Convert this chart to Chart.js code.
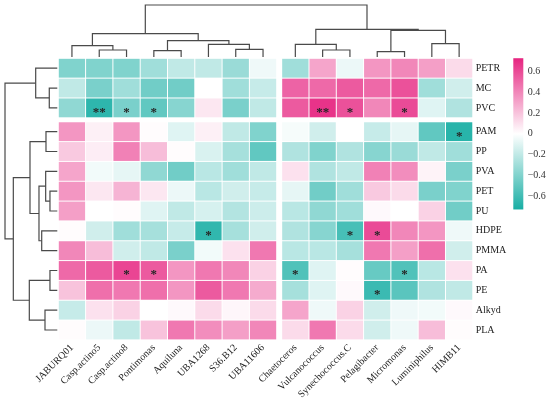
<!DOCTYPE html>
<html>
<head>
<meta charset="utf-8">
<script src="https://cdn.jsdelivr.net/npm/chart.js@4.4.1/dist/chart.umd.min.js"></script>
<style>
  body { margin: 0; background: #fff; }
  #wrap { width: 550px; height: 401px; }
</style>
</head>
<body>
<div id="wrap"><canvas id="heat"></canvas></div>
<script>
// genera (columns) and plastics (rows), in plotted order
const colLabels = ["JABURQ01", "Casp.actino5", "Casp.actino8", "Pontimonas", "Aquiluna", "UBA1268", "S36.B12", "UBA11606",
  "Chaetoceros", "Vulcanococcus", "Synechococcus.C", "Pelagibacter", "Micromonas", "Luminiphilus", "HIMB11"];
const rowLabels = ["PETR", "MC", "PVC", "PAM", "PP", "PVA", "PET", "PU", "HDPE", "PMMA", "PA", "PE", "Alkyd", "PLA"];

// correlation per plastic, one value per genus
const rPETR  = [-0.40, -0.40, -0.40, -0.30, -0.20, -0.20, -0.32, -0.05, -0.30,  0.30, -0.06,  0.35,  0.40,  0.32,  0.12];
const rMC    = [-0.20, -0.42, -0.30, -0.45, -0.45,  0.00, -0.30, -0.18,  0.52,  0.50,  0.55,  0.50,  0.58, -0.30, -0.15];
const rPVC   = [-0.35, -0.66, -0.42, -0.50, -0.38,  0.08, -0.42, -0.20,  0.55,  0.68,  0.58,  0.40,  0.60, -0.10, -0.25];
const rPAM   = [ 0.35,  0.05,  0.35,  0.01, -0.10,  0.05, -0.20, -0.40, -0.03, -0.15,  0.00, -0.18, -0.08, -0.50, -0.68];
const rPP    = [ 0.18,  0.06,  0.42,  0.22,  0.01, -0.12, -0.28, -0.50, -0.25, -0.40, -0.25, -0.38, -0.32, -0.20, -0.30];
const rPVA   = [ 0.30, -0.04, -0.08, -0.35, -0.45, -0.22, -0.30, -0.20,  0.10, -0.25, -0.20,  0.42,  0.38,  0.04, -0.42];
const rPET   = [ 0.35,  0.08,  0.25,  0.08, -0.06, -0.22, -0.15, -0.18, -0.08, -0.45, -0.30,  0.18,  0.12, -0.42, -0.40];
const rPU    = [ 0.32,  0.00,  0.01, -0.10, -0.20, -0.13, -0.24, -0.16, -0.22, -0.35, -0.30,  0.02,  0.00,  0.15, -0.45];
const rHDPE  = [ 0.01, -0.15, -0.30, -0.28, -0.18, -0.65, -0.28, -0.15, -0.25, -0.38, -0.58,  0.60,  0.40,  0.35, -0.05];
const rPMMA  = [ 0.40,  0.22, -0.15, -0.20, -0.42, -0.04,  0.10,  0.45, -0.22, -0.22, -0.28,  0.45,  0.32,  0.48, -0.15];
const rPA    = [ 0.50,  0.55,  0.62,  0.55,  0.35,  0.45,  0.40,  0.15, -0.55, -0.10,  0.01, -0.48, -0.55, -0.22,  0.10];
const rPE    = [ 0.20,  0.48,  0.45,  0.48,  0.35,  0.55,  0.45,  0.28, -0.28, -0.10,  0.02, -0.62, -0.52, -0.25, -0.20];
const rAlkyd = [-0.18,  0.10,  0.15,  0.00,  0.02,  0.12,  0.03,  0.12,  0.30, -0.05,  0.15, -0.15, -0.05, -0.04,  0.02];
const rPLA   = [ 0.01, -0.06, -0.20,  0.20,  0.45,  0.38,  0.32,  0.40,  0.12,  0.45,  0.12, -0.15, -0.05,  0.22,  0.01];
const matrix = [rPETR, rMC, rPVC, rPAM, rPP, rPVA, rPET, rPU, rHDPE, rPMMA, rPA, rPE, rAlkyd, rPLA];

// significance marks: [row, column, mark]
const stars = [
  [2, 1, "**"], [2, 2, "*"], [2, 3, "*"], [2, 9, "**"], [2, 10, "*"], [2, 12, "*"],
  [3, 14, "*"],
  [8, 5, "*"], [8, 10, "*"], [8, 11, "*"],
  [10, 2, "*"], [10, 3, "*"], [10, 8, "*"], [10, 12, "*"],
  [11, 11, "*"]
];

// clustering trees: [a, b, height]; leaves first, each merge gets the next id
const colLinkage = [
  [1, 2, 0.135], [0, 15, 0.217], [3, 4, 0.121], [6, 7, 0.148], [5, 18, 0.244],
  [17, 19, 0.313], [16, 20, 0.448], [9, 10, 0.135], [8, 22, 0.244], [11, 12, 0.102],
  [13, 14, 0.256], [24, 25, 0.513], [23, 26, 0.533], [21, 27, 1.0]
];
const rowLinkage = [
  [1, 2, 0.153], [0, 14, 0.413], [3, 4, 0.216], [6, 7, 0.140], [5, 17, 0.222],
  [8, 9, 0.298], [18, 19, 0.350], [16, 20, 0.522], [10, 11, 0.140], [12, 13, 0.235],
  [22, 23, 0.535], [21, 24, 0.841], [15, 25, 1.0]
];

const colorMax = 0.73;
const cbTicks = [-0.6, -0.4, -0.2, 0, 0.2, 0.4, 0.6];

// layout in scale units
const colGap = 0.183, rowGap = 0.2;
const colPos = c => c + (c >= 8 ? colGap : 0);
const rowPos = r => r + (r >= 3 ? rowGap : 0);
const topBase = -0.566, topSpan = 2.622;
const leftBase = -0.537, leftSpan = 1.915;

const pinkEnd = [230, 36, 128];
const tealEnd = [24, 174, 164];

function valueColor(v) {
  const t = Math.min(Math.abs(v) / colorMax, 1);
  const end = v >= 0 ? pinkEnd : tealEnd;
  const mix = i => Math.round(255 + (end[i] - 255) * t);
  return `rgb(${mix(0)},${mix(1)},${mix(2)})`;
}

// turn a linkage into one U-shaped path per merge
function dendroPaths(linkage, leafPos, toPoint) {
  const pos = leafPos.slice();
  const hgt = leafPos.map(() => 0);
  const paths = [];
  linkage.forEach(([a, b, h]) => {
    paths.push([toPoint(pos[a], hgt[a]), toPoint(pos[a], h), toPoint(pos[b], h), toPoint(pos[b], hgt[b])]);
    pos.push((pos[a] + pos[b]) / 2);
    hgt.push(h);
  });
  return paths;
}

const topPaths = dendroPaths(colLinkage, colLabels.map((_, i) => colPos(i)),
  (p, h) => ({ x: p, y: topBase - h * topSpan }));
const leftPaths = dendroPaths(rowLinkage, rowLabels.map((_, i) => rowPos(i)),
  (p, h) => ({ x: leftBase - h * leftSpan, y: p }));

const datasets = topPaths.concat(leftPaths).map(pts => ({
  data: pts,
  showLine: true,
  pointRadius: 0,
  borderColor: "#4a4a4a",
  borderWidth: 1.2,
  clip: false
}));

// heatmap cells, colour bar and significance marks
const heatPlugin = {
  id: "heat",
  beforeDatasetsDraw(chart) {
    const { ctx, scales: { x, y, yc } } = chart;
    ctx.save();
    matrix.forEach((row, r) => row.forEach((v, c) => {
      const l = x.getPixelForValue(colPos(c) - 0.5);
      const rt = x.getPixelForValue(colPos(c) + 0.5);
      const t = y.getPixelForValue(rowPos(r) - 0.5);
      const b = y.getPixelForValue(rowPos(r) + 0.5);
      ctx.fillStyle = valueColor(v);
      ctx.fillRect(l + 0.5, t + 0.5, rt - l - 1, b - t - 1);
    }));

    // colour bar sits just left of its tick labels
    const top = yc.getPixelForValue(colorMax);
    const bot = yc.getPixelForValue(-colorMax);
    const grad = ctx.createLinearGradient(0, top, 0, bot);
    grad.addColorStop(0, valueColor(colorMax));
    grad.addColorStop(0.5, "#ffffff");
    grad.addColorStop(1, valueColor(-colorMax));
    ctx.fillStyle = grad;
    ctx.fillRect(yc.left - 11.4, top, 10, bot - top);
    ctx.restore();
  },
  afterDatasetsDraw(chart) {
    const { ctx, scales: { x, y } } = chart;
    ctx.save();
    ctx.fillStyle = "#262626";
    ctx.font = "bold 13px 'Liberation Serif'";
    ctx.textAlign = "center";
    ctx.textBaseline = "alphabetic";
    stars.forEach(([r, c, mark]) => {
      ctx.fillText(mark, x.getPixelForValue(colPos(c)), y.getPixelForValue(rowPos(r)) + 8);
    });
    ctx.restore();
  }
};

// keep the plot box where we put it: no extra room for edge labels
const noEdgePad = s => { s.paddingTop = 0; s.paddingBottom = 0; s.paddingLeft = 0; s.paddingRight = 0; };

Chart.defaults.font.family = "'Liberation Serif', 'Times New Roman', serif";
Chart.defaults.font.size = 10;
Chart.defaults.color = "#222";

new Chart(document.getElementById("heat"), {
  type: "scatter",
  data: { datasets },
  options: {
    responsive: true,
    maintainAspectRatio: false,
    animation: false,
    events: [],
    layout: { padding: { left: 2, top: 3, right: 0, bottom: 0 } },
    plugins: { legend: { display: false }, tooltip: { enabled: false } },
    scales: {
      x: {
        type: "linear",
        position: "bottom",
        min: -2.562,
        max: 14.68,
        grid: { display: false, drawTicks: false },
        border: { display: false },
        afterBuildTicks: s => { s.ticks = colLabels.map((_, i) => ({ value: colPos(i) })); },
        afterFit: s => { s.height = 61.1; noEdgePad(s); },
        ticks: {
          autoSkip: false,
          minRotation: 45,
          maxRotation: 45,
          padding: 2,
          callback: (v, i) => colLabels[i]
        }
      },
      y: {
        type: "linear",
        position: "right",
        reverse: true,
        min: -3.289,
        max: 13.7,
        grid: { display: false, drawTicks: false },
        border: { display: false },
        afterBuildTicks: s => { s.ticks = rowLabels.map((_, i) => ({ value: rowPos(i) })); },
        afterFit: s => { s.width = 52; noEdgePad(s); },
        ticks: {
          autoSkip: false,
          padding: 3,
          callback: (v, i) => rowLabels[i]
        }
      },
      yc: {
        type: "linear",
        position: "right",
        min: -1.989,
        max: 1.263,
        grid: { display: false, drawTicks: false },
        border: { display: false },
        afterBuildTicks: s => { s.ticks = cbTicks.map(v => ({ value: v })); },
        afterFit: s => { s.width = 25.3; noEdgePad(s); },
        ticks: {
          autoSkip: false,
          padding: 3,
          color: "#333",
          callback: v => v === 0 ? "0" : (v < 0 ? "\u2212" : "") + Math.abs(v).toFixed(1)
        }
      }
    }
  },
  plugins: [heatPlugin]
});
</script>
</body>
</html>
